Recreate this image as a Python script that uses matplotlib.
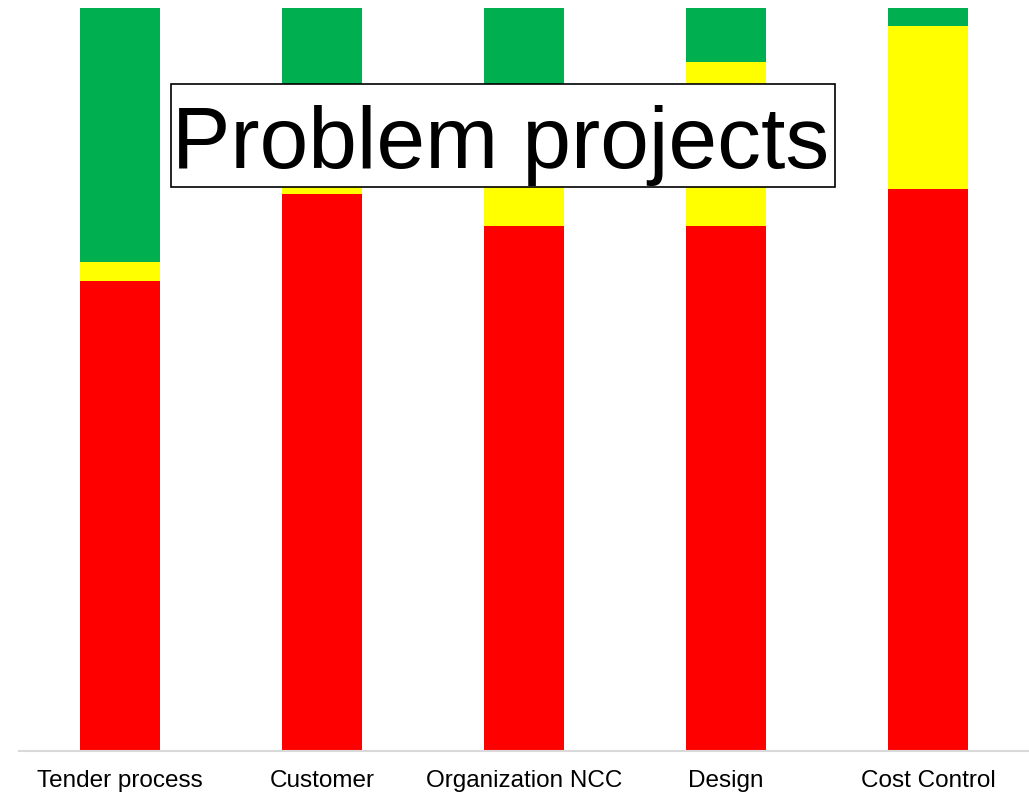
import numpy as np
import matplotlib
matplotlib.use("Agg")
import matplotlib.pyplot as plt
from matplotlib.patches import Rectangle

plt.rcParams['font.family'] = ['Liberation Sans', 'DejaVu Sans']

categories = ["Tender process", "Customer", "Organization NCC", "Design", "Cost Control"]
red_share = [63.2, 75.0, 70.7, 70.7, 75.6]
yellow_share = [2.6, 2.5, 12.0, 22.0, 22.0]
green_share = [34.2, 22.5, 17.3, 7.3, 2.4]

W, H = 1029, 794
fig = plt.figure(figsize=(W / 100, H / 100), dpi=100)
ax = fig.add_axes([19 / W, 43 / H, 1 - 19 / W, 743 / H])

x = np.arange(len(categories))
width = 0.4
red = np.array(red_share)
yellow = np.array(yellow_share)
green = np.array(green_share)

ax.bar(x, red, width, color="#ff0000")
ax.bar(x, yellow, width, bottom=red, color="#ffff00")
ax.bar(x, green, width, bottom=red + yellow, color="#00b050")

ax.set_xlim(-0.5, len(categories) - 0.5)
ax.set_ylim(0, 100)
ax.set_xticks(x)
ax.set_xticklabels(categories, fontsize=17.5)
ax.tick_params(axis="x", length=0, pad=14)
ax.set_yticks([])
for side in ["top", "right", "left"]:
    ax.spines[side].set_visible(False)
ax.spines["bottom"].set_color("#d9d9d9")
ax.spines["bottom"].set_linewidth(1.5)

# title box drawn over the bars
fig.patches.append(Rectangle((171 / W, 1 - 187 / H), 664 / W, 103 / H,
                             transform=fig.transFigure, facecolor="white",
                             edgecolor="black", linewidth=1.2, zorder=5))
fig.text(501 / W, 1 - 168 / H, "Problem projects", fontsize=63,
         ha="center", va="baseline", zorder=6)

fig.savefig("out.png", dpi=100)
